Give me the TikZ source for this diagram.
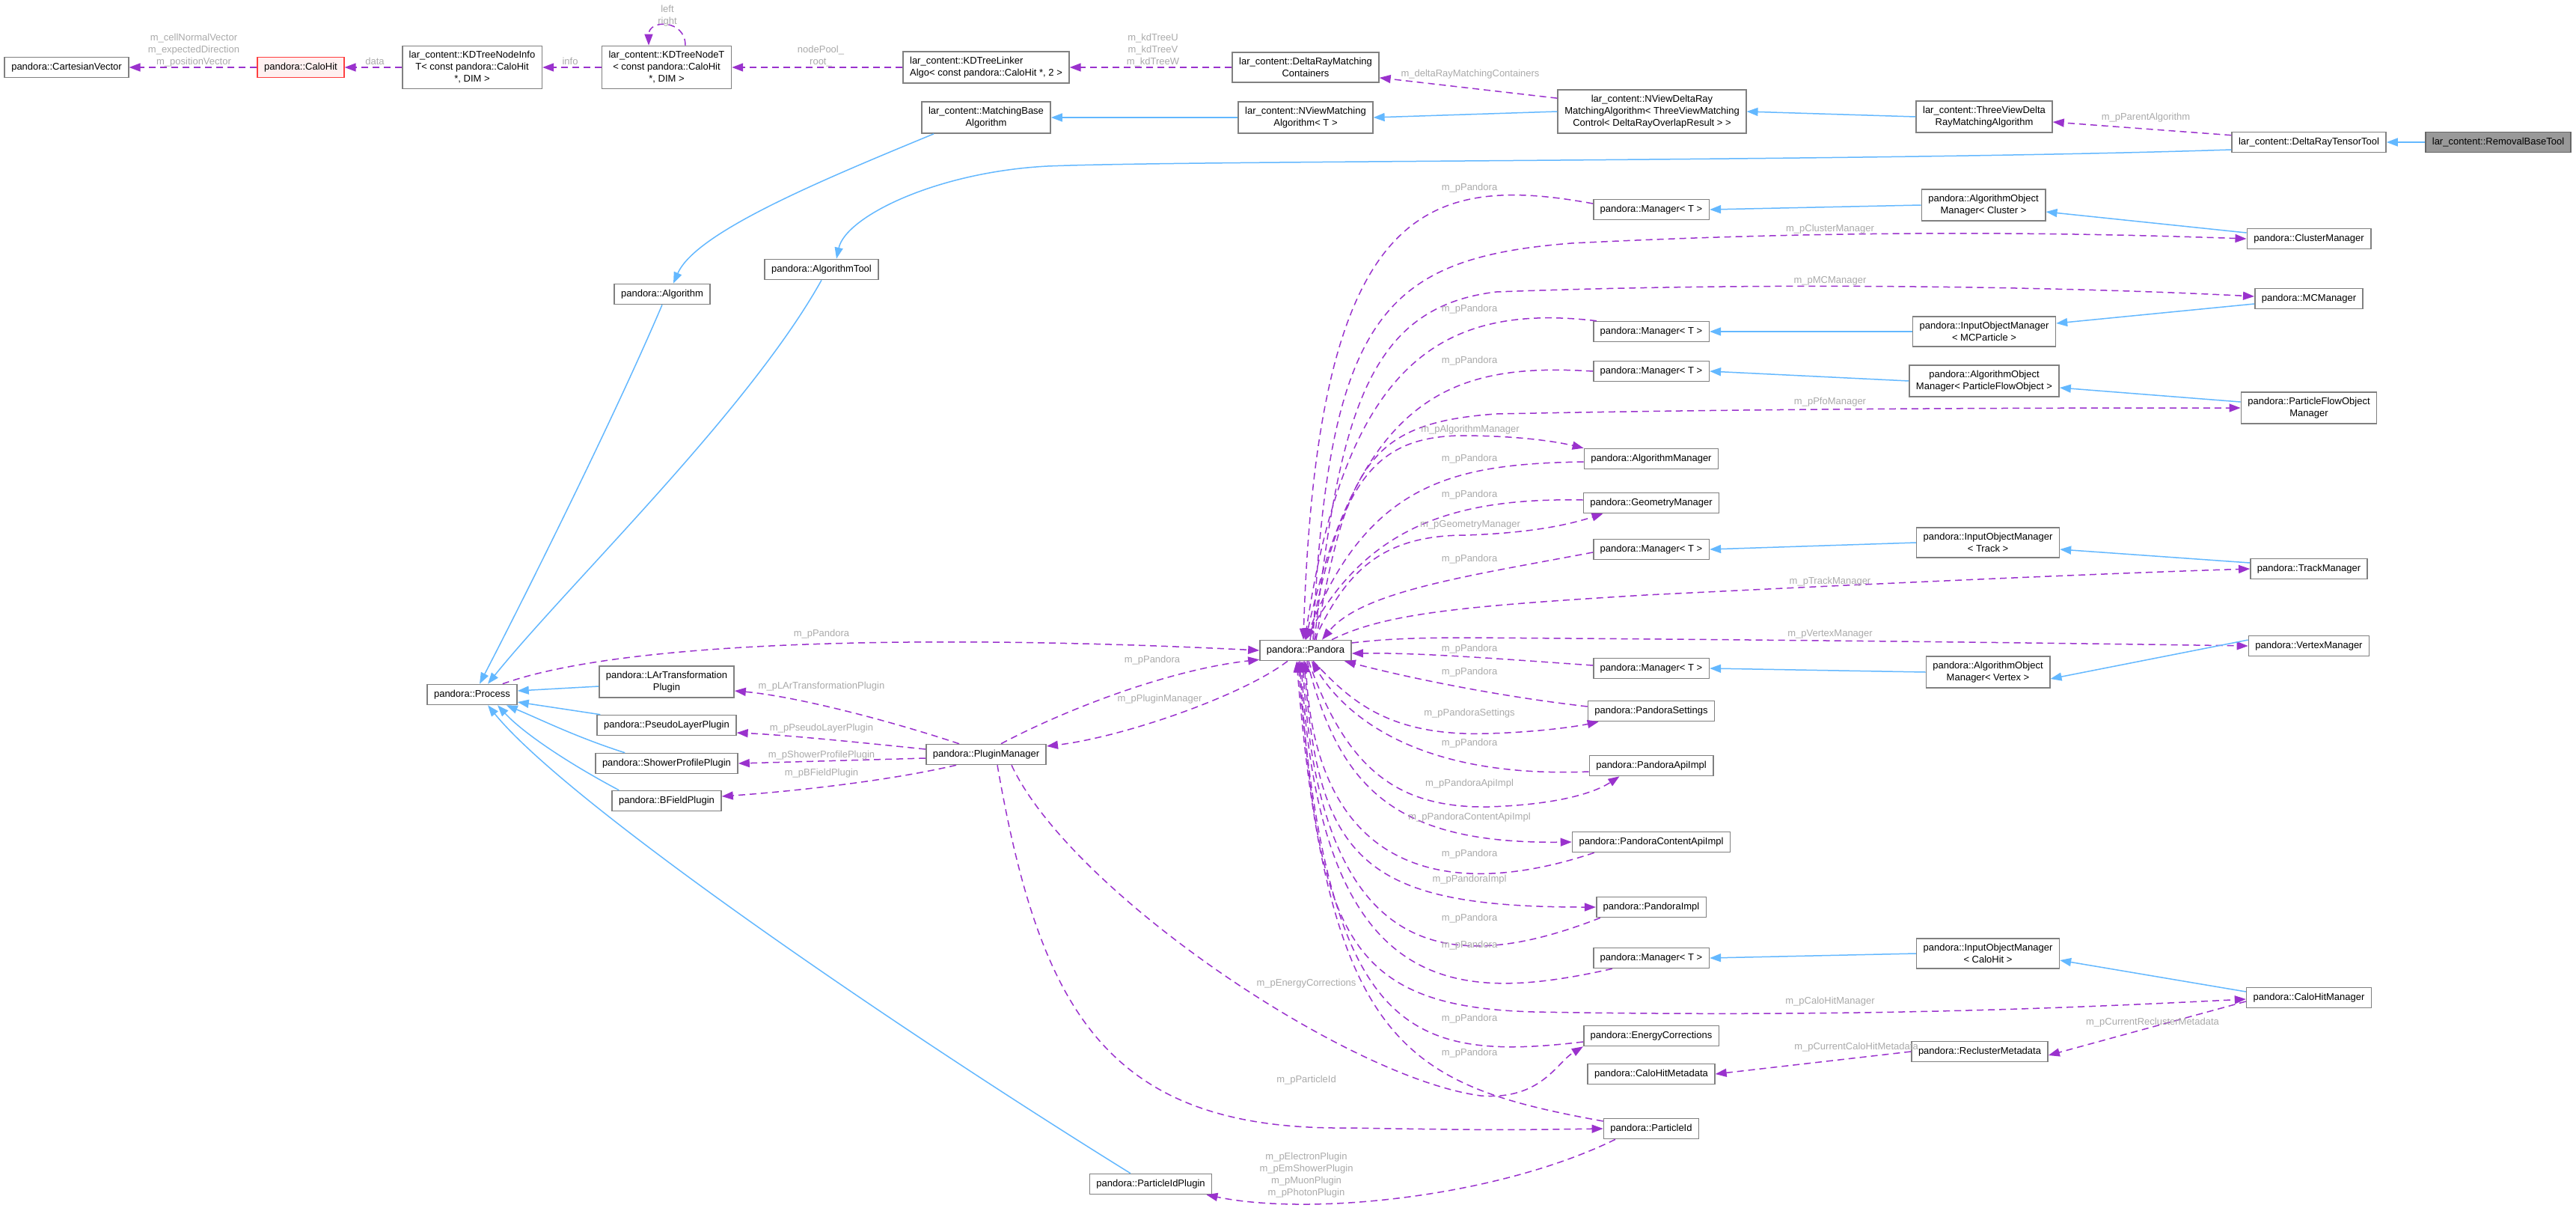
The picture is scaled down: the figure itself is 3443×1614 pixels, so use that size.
\documentclass[tikz,border=0pt]{standalone}
\usepackage{fontspec}
\setmainfont{Liberation Sans}
\usetikzlibrary{arrows.meta}

\definecolor{inhblue}{HTML}{63B8FF}
\definecolor{deppurple}{HTML}{9A32CD}
\definecolor{lblgray}{HTML}{AAAAAA}
\definecolor{boxgray}{HTML}{808080}

\tikzset{
  cls/.style={draw=boxgray,line width=1.6pt,fill=white,align=center,inner xsep=9pt,inner ysep=7pt,minimum height=27pt,font=\fontsize{13}{16}\selectfont},
  rootcls/.style={cls,fill=black!40,draw=black!60},
  redcls/.style={cls,fill=red!6,draw=red!75},
  inh/.style={draw=inhblue,line width=1.5pt,-{Triangle[length=15pt,width=11pt]}},
  dep/.style={draw=deppurple,line width=1.5pt,dash pattern=on 9pt off 6pt,-{Triangle[length=15pt,width=11pt]}},
  lbl/.style={text=lblgray,align=center,inner sep=0pt,font=\fontsize{13}{16}\selectfont},
}

\begin{document}
\begin{tikzpicture}[x=1pt,y=-1pt]
\path[fill=white,use as bounding box] (0,0) rectangle (3443,1614);

% top row
\node[cls] (cartesian) at (89,90) {pandora::CartesianVector};
\node[redcls] (calohit) at (402,90) {pandora::CaloHit};
\node[cls] (nodeinfo) at (631,90) {lar\_content::KDTreeNodeInfo\\T< const pandora::CaloHit\\*, DIM >};
\node[cls] (nodet) at (891,90) {lar\_content::KDTreeNodeT\\< const pandora::CaloHit\\*, DIM >};
\node[cls,align=left] (linker) at (1318,90) {lar\_content::KDTreeLinker\\Algo< const pandora::CaloHit *, 2 >};
\node[cls] (containers) at (1745,90) {lar\_content::DeltaRayMatching\\Containers};
\node[cls] (matchbase) at (1318,157) {lar\_content::MatchingBase\\Algorithm};
\node[cls] (nviewmatch) at (1745,157) {lar\_content::NViewMatching\\Algorithm< T >};
\node[cls] (nviewdelta) at (2208,149) {lar\_content::NViewDeltaRay\\MatchingAlgorithm< ThreeViewMatching\\Control< DeltaRayOverlapResult > >};
\node[cls] (threeview) at (2652,156) {lar\_content::ThreeViewDelta\\RayMatchingAlgorithm};
\node[cls] (tensortool) at (3086,190) {lar\_content::DeltaRayTensorTool};
\node[rootcls] (removal) at (3339,190) {lar\_content::RemovalBaseTool};

% left part
\node[cls] (algtool) at (1098,360) {pandora::AlgorithmTool};
\node[cls] (algorithm) at (885,393) {pandora::Algorithm};
\node[cls] (process) at (631,928) {pandora::Process};
\node[cls] (lartrans) at (891,911) {pandora::LArTransformation\\Plugin};
\node[cls] (pseudolayer) at (891,969) {pandora::PseudoLayerPlugin};
\node[cls] (showerprofile) at (891,1020) {pandora::ShowerProfilePlugin};
\node[cls] (bfield) at (891,1070) {pandora::BFieldPlugin};
\node[cls] (pluginmgr) at (1318,1008) {pandora::PluginManager};
\node[cls] (pidplugin) at (1538,1582) {pandora::ParticleIdPlugin};
\node[cls] (pandora) at (1745,869) {pandora::Pandora};

% manager column
\node[cls] (mgrA) at (2207,280) {pandora::Manager< T >};
\node[cls] (mgrB) at (2207,443) {pandora::Manager< T >};
\node[cls] (mgrC) at (2207,496) {pandora::Manager< T >};
\node[cls] (algmanager) at (2207,613) {pandora::AlgorithmManager};
\node[cls] (geomanager) at (2207,672) {pandora::GeometryManager};
\node[cls] (mgrD) at (2207,734) {pandora::Manager< T >};
\node[cls] (mgrE) at (2207,893) {pandora::Manager< T >};
\node[cls] (settings) at (2207,950) {pandora::PandoraSettings};
\node[cls] (apiimpl) at (2207,1023) {pandora::PandoraApiImpl};
\node[cls] (contentapiimpl) at (2207,1125) {pandora::PandoraContentApiImpl};
\node[cls] (pandoraimpl) at (2207,1212) {pandora::PandoraImpl};
\node[cls] (mgrF) at (2207,1280) {pandora::Manager< T >};
\node[cls] (energycorr) at (2207,1384) {pandora::EnergyCorrections};
\node[cls] (calohitmeta) at (2207,1435) {pandora::CaloHitMetadata};
\node[cls] (particleid) at (2207,1508) {pandora::ParticleId};

\node[cls] (aomcluster) at (2651,274) {pandora::AlgorithmObject\\Manager< Cluster >};
\node[cls] (iommc) at (2652,443) {pandora::InputObjectManager\\< MCParticle >};
\node[cls] (aompfo) at (2652,509) {pandora::AlgorithmObject\\Manager< ParticleFlowObject >};
\node[cls] (iomtrack) at (2657,725) {pandora::InputObjectManager\\< Track >};
\node[cls] (aomvertex) at (2657,898) {pandora::AlgorithmObject\\Manager< Vertex >};
\node[cls] (iomcalohit) at (2657,1274) {pandora::InputObjectManager\\< CaloHit >};
\node[cls] (reclustermeta) at (2646,1405) {pandora::ReclusterMetadata};

\node[cls] (clustermanager) at (3086,319) {pandora::ClusterManager};
\node[cls] (mcmanager) at (3086,399) {pandora::MCManager};
\node[cls] (pfomanager) at (3086,545) {pandora::ParticleFlowObject\\Manager};
\node[cls] (trackmanager) at (3086,760) {pandora::TrackManager};
\node[cls] (vertexmanager) at (3086,863) {pandora::VertexManager};
\node[cls] (calohitmanager) at (3086,1333) {pandora::CaloHitManager};

% top usage and inheritance
\draw[dep] (calohit.west) -- (cartesian.east);
\node[lbl] (lcart) at (259,67) {m\_cellNormalVector\\m\_expectedDirection\\m\_positionVector};
\draw[dep] (nodeinfo.west) -- (calohit.east);
\node[lbl] (ldata) at (501,82) {data};
\draw[dep] (nodet.west) -- (nodeinfo.east);
\node[lbl] (linfo) at (762,82) {info};
\draw[dep] ([xshift=25pt]nodet.north) .. controls +(0,-35) and +(0,-35) .. ([xshift=-24pt]nodet.north);
\node[lbl] (lloop) at (892,21) {left\\right};
\draw[dep] (linker.west) -- (nodet.east);
\node[lbl] (lpool) at (1097,75) {nodePool\_\\root\_};
\draw[dep] (containers.west) -- (linker.east);
\node[lbl] (lkd) at (1541,67) {m\_kdTreeU\\m\_kdTreeV\\m\_kdTreeW};
\draw[dep] (nviewdelta.172) -- (containers.352);
\node[lbl] (lcont) at (1965,99) {m\_deltaRayMatchingContainers};
\draw[dep] ([yshift=-5pt]tensortool.north west) -- ([yshift=-7pt]threeview.east);
\node[lbl] (lparent) at (2868,157) {m\_pParentAlgorithm};

\draw[inh] (removal.west) -- (tensortool.east);
\draw[inh] (threeview.west) -- (nviewdelta.east);
\draw[inh] (nviewdelta.west) -- (nviewmatch.east);
\draw[inh] (nviewmatch.west) -- (matchbase.east);
\draw[inh] ([yshift=-10pt]tensortool.west) .. controls (2500,216) and (1600,214) .. (1400,222) .. controls (1250,230) and (1130,290) .. ([xshift=20pt]algtool.north);
\draw[inh] ([xshift=-70pt]matchbase.south) .. controls (1100,240) and (930,310) .. ([xshift=15pt]algorithm.north);

% process hierarchy
\draw[inh] (algorithm.south) .. controls (820,560) and (700,800) .. ([xshift=10pt]process.north);
\draw[inh] (algtool.south) .. controls (1000,550) and (760,780) .. ([xshift=21pt]process.north);
\draw[inh] ([yshift=-6pt]lartrans.west) -- ([yshift=5pt]process.east);
\draw[inh] ([xshift=5pt]pseudolayer.north west) -- ([yshift=-10pt]process.east);
\draw[inh] ([xshift=40pt]showerprofile.north west) .. controls (770,985) and (720,960) .. ([xshift=-15pt]process.south east);
\draw[inh] ([xshift=10pt]bfield.north west) .. controls (760,1020) and (700,980) .. ([xshift=34pt]process.south);
\draw[inh] ([xshift=-27pt]pidplugin.north) .. controls (1200,1375) and (760,1075) .. ([xshift=21pt]process.south);

% plugins
\draw[dep] ([xshift=-20pt]process.north east) .. controls (850,850) and (1300,850) .. (pandora.west);
\node[lbl] (lproc) at (1098,847) {m\_pPandora};
\draw[dep] ([xshift=20pt]pluginmgr.north) .. controls (1420,950) and (1560,895) .. ([yshift=2pt]pandora.south west);
\node[lbl] (lplug) at (1540,882) {m\_pPandora};
\draw[dep] ([xshift=-24pt]pandora.south) .. controls (1660,930) and (1500,985) .. ([yshift=11pt]pluginmgr.east);
\node[lbl] (lplugmgr) at (1550,934) {m\_pPluginManager};
\draw[dep] ([xshift=-36pt]pluginmgr.north) .. controls (1180,960) and (1060,930) .. ([yshift=-12pt]lartrans.east);
\node[lbl] (llar) at (1098,917) {m\_pLArTransformationPlugin};
\draw[dep] ([yshift=7pt]pluginmgr.west) .. controls (1150,992) and (1050,982) .. ([yshift=-10pt]pseudolayer.east);
\node[lbl] (lpseudo) at (1098,973) {m\_pPseudoLayerPlugin};
\draw[dep] ([yshift=-5pt]pluginmgr.west) -- (showerprofile.east);
\node[lbl] (lshower) at (1098,1009) {m\_pShowerProfilePlugin};
\draw[dep] ([xshift=-40pt]pluginmgr.south) .. controls (1180,1045) and (1050,1058) .. ([yshift=6pt]bfield.east);
\node[lbl] (lbfield) at (1098,1033) {m\_pBFieldPlugin};
\draw[dep] ([xshift=34pt]pluginmgr.south) .. controls (1430,1190) and (1800,1440) .. (1979,1464) .. controls (2060,1470) and (2080,1420) .. (energycorr.south west);
\node[lbl] (lenergy) at (1746,1314) {m\_pEnergyCorrections};
\draw[dep] ([xshift=15pt]pluginmgr.south) .. controls (1390,1350) and (1480,1510) .. (1800,1507) .. controls (2000,1510) .. (particleid.west);
\node[lbl] (lpid) at (1746,1443) {m\_pParticleId};
\draw[dep] ([xshift=-48pt]particleid.south) .. controls (2000,1600) and (1750,1625) .. ([xshift=-8pt]pidplugin.south east);
\node[lbl] (lpidplug) at (1746,1570) {m\_pElectronPlugin\\m\_pEmShowerPlugin\\m\_pMuonPlugin\\m\_pPhotonPlugin};

% managers and pandora
\draw[dep] ([yshift=8pt]mgrA.west) .. controls (1900,230) and (1760,280) .. ([xshift=-3pt]pandora.north);
\node[lbl] (lA) at (1964,251) {m\_pPandora};
\draw[dep] ([xshift=10pt]pandora.north) .. controls (1775,420) and (1850,345) .. (2100,325) .. controls (2500,305) and (2800,312) .. (clustermanager.west);
\node[lbl] (lcluster) at (2446,306) {m\_pClusterManager};
\draw[dep] ([xshift=12pt]pandora.north) .. controls (1790,550) and (1830,410) .. (2000,390) .. controls (2400,375) and (2800,385) .. ([yshift=3pt]mcmanager.west);
\node[lbl] (lmc) at (2446,375) {m\_pMCManager};
\draw[dep] ([xshift=5pt]mgrB.north west) .. controls (1930,405) and (1800,480) .. ([xshift=-1pt]pandora.north);
\node[lbl] (lB) at (1964,413) {m\_pPandora};
\draw[dep] (mgrC.west) .. controls (1950,485) and (1820,520) .. (pandora.north);
\node[lbl] (lC) at (1964,482) {m\_pPandora};
\draw[dep] ([xshift=14pt]pandora.north) .. controls (1800,620) and (1830,565) .. (2000,553) .. controls (2400,545) and (2800,545) .. (pfomanager.west);
\node[lbl] (lpfo) at (2446,537) {m\_pPfoManager};
\draw[dep] ([xshift=6pt]pandora.north) .. controls (1790,640) and (1840,585) .. (1950,582) .. controls (2030,582) and (2080,590) .. (algmanager.north west);
\node[lbl] (lalg) at (1965,574) {m\_pAlgorithmManager};
\draw[dep] ([yshift=-4pt]algmanager.west) .. controls (1950,620) and (1830,640) .. (pandora.north);
\node[lbl] (lalgp) at (1964,613) {m\_pPandora};
\draw[dep] ([yshift=4pt]geomanager.west) .. controls (1950,665) and (1830,700) .. (pandora.north);
\node[lbl] (lgeop) at (1964,661) {m\_pPandora};
\draw[dep] ([xshift=12pt]pandora.north) .. controls (1800,760) and (1850,715) .. (1960,715) .. controls (2050,712) and (2100,700) .. ([xshift=27pt]geomanager.south west);
\node[lbl] (lgeo) at (1965,701) {m\_pGeometryManager};
\draw[dep] ([yshift=-4pt]mgrD.west) .. controls (1960,770) and (1820,790) .. ([xshift=22pt]pandora.north);
\node[lbl] (lD) at (1964,747) {m\_pPandora};
\draw[dep] ([xshift=35pt]pandora.north) .. controls (1850,820) and (1950,810) .. (2200,795) .. controls (2600,775) and (2850,765) .. (trackmanager.west);
\node[lbl] (ltrack) at (2446,777) {m\_pTrackManager};
\draw[dep] ([yshift=10pt]pandora.east) .. controls (1880,850) and (1950,852) .. (2100,853) .. controls (2500,856) and (2800,860) .. (vertexmanager.west);
\node[lbl] (lvertex) at (2446,847) {m\_pVertexManager};
\draw[dep] ([yshift=4pt]mgrE.west) .. controls (2000,880) and (1900,872) .. ([yshift=-4pt]pandora.east);
\node[lbl] (lE) at (1964,867) {m\_pPandora};
\draw[dep] ([yshift=6pt]settings.west) .. controls (2000,930) and (1880,905) .. ([xshift=-10pt]pandora.south east);
\node[lbl] (lsetp) at (1964,898) {m\_pPandora};
\draw[dep] ([xshift=10pt]pandora.south) .. controls (1800,930) and (1850,985) .. (1990,980) .. controls (2060,978) and (2110,970) .. ([xshift=15pt]settings.south west);
\node[lbl] (lset) at (1964,953) {m\_pPandoraSettings};
\draw[dep] ([yshift=-8pt]apiimpl.west) .. controls (1900,1040) and (1800,960) .. ([xshift=8pt]pandora.south);
\node[lbl] (lapip) at (1964,993) {m\_pPandora};
\draw[dep] ([xshift=4pt]pandora.south) .. controls (1800,1030) and (1870,1080) .. (1990,1078) .. controls (2080,1075) and (2130,1060) .. ([xshift=41pt]apiimpl.south west);
\node[lbl] (lapi) at (1964,1047) {m\_pPandoraApiImpl};
\draw[dep] ([xshift=2pt]pandora.south) .. controls (1790,1050) and (1860,1128) .. (contentapiimpl.west);
\node[lbl] (lcontent) at (1964,1092) {m\_pPandoraContentApiImpl};
\draw[dep] ([xshift=30pt]contentapiimpl.south west) .. controls (1950,1200) and (1760,1180) .. (pandora.south);
\node[lbl] (lcontentp) at (1964,1141) {m\_pPandora};
\draw[dep] ([xshift=-2pt]pandora.south) .. controls (1760,1150) and (1820,1212) .. (pandoraimpl.west);
\node[lbl] (limpl) at (1964,1175) {m\_pPandoraImpl};
\draw[dep] ([xshift=6pt]pandoraimpl.south west) .. controls (1950,1300) and (1765,1300) .. ([xshift=-4pt]pandora.south);
\node[lbl] (limplp) at (1964,1227) {m\_pPandora};
\draw[dep] ([xshift=26pt]mgrF.south west) .. controls (1950,1340) and (1765,1340) .. ([xshift=-6pt]pandora.south);
\node[lbl] (lF) at (1964,1263) {m\_pPandora};
\draw[dep] ([xshift=-8pt]pandora.south) .. controls (1760,1250) and (1800,1345) .. (2050,1352) .. controls (2500,1360) and (2800,1345) .. ([yshift=-2pt]calohitmanager.west);
\node[lbl] (lcalomgr) at (2446,1338) {m\_pCaloHitManager};
\draw[dep] ([yshift=-8pt]energycorr.west) .. controls (1880,1420) and (1775,1380) .. ([xshift=-10pt]pandora.south);
\node[lbl] (lenergyp) at (1964,1361) {m\_pPandora};
\draw[dep] ([yshift=10pt]particleid.west) .. controls (1880,1450) and (1775,1400) .. ([xshift=-12pt]pandora.south);
\node[lbl] (lpidp) at (1964,1407) {m\_pPandora};

% metadata
\draw[dep] ([yshift=-5pt]calohitmanager.west) -- ([yshift=-5pt]reclustermeta.east);
\node[lbl] (lrecl) at (2877,1366) {m\_pCurrentReclusterMetadata};
\draw[dep] (reclustermeta.west) -- (calohitmeta.east);
\node[lbl] (lcalometa) at (2481,1399) {m\_pCurrentCaloHitMetadata};

% manager hierarchy
\draw[inh] (aomcluster.west) -- (mgrA.east);
\draw[inh] ([yshift=8pt]clustermanager.west) -- ([yshift=-9pt]aomcluster.east);
\draw[inh] (iommc.west) -- (mgrB.east);
\draw[inh] ([yshift=-7pt]mcmanager.west) -- ([yshift=11pt]iommc.east);
\draw[inh] (aompfo.west) -- (mgrC.east);
\draw[inh] ([yshift=8pt]pfomanager.west) -- ([yshift=-9pt]aompfo.east);
\draw[inh] (iomtrack.west) -- (mgrD.east);
\draw[inh] ([yshift=8pt]trackmanager.west) -- ([yshift=-9pt]iomtrack.east);
\draw[inh] (aomvertex.west) -- (mgrE.east);
\draw[inh] ([yshift=8pt]vertexmanager.west) -- ([yshift=-9pt]aomvertex.east);
\draw[inh] (iomcalohit.west) -- (mgrF.east);
\draw[inh] ([yshift=8pt]calohitmanager.west) -- ([yshift=-9pt]iomcalohit.east);

\end{tikzpicture}
\end{document}
